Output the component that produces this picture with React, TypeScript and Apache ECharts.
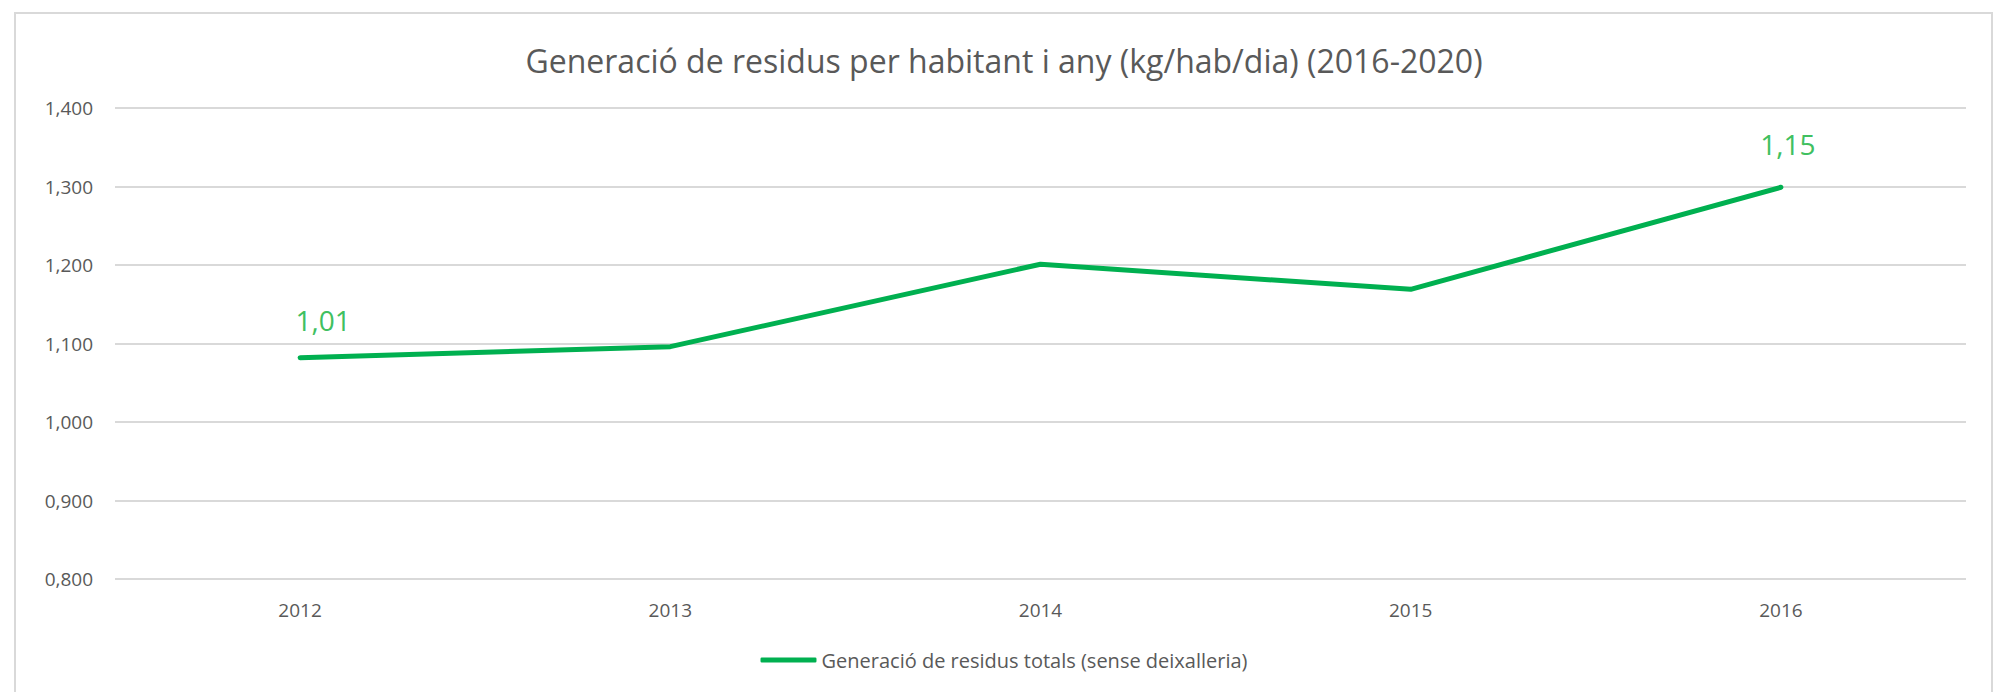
import React, { useEffect, useRef } from "react";
import * as echarts from "echarts";

const TITLE = "Generació de residus per habitant i any (kg/hab/dia) (2016-2020)";
const SERIES_NAME = "Generació de residus totals (sense deixalleria)";
const years = ["2012", "2013", "2014", "2015", "2016"];
const values = [1.082, 1.096, 1.201, 1.169, 1.299];
const pointLabels = ["1,01", "", "", "", "1,15"];

export default function App() {
  const ref = useRef<HTMLDivElement>(null);
  useEffect(() => {
    document.body.style.margin = "0";
    const chart = echarts.init(ref.current!, undefined, { renderer: "svg" });
    const data = values.map((v, i) => ({
      value: v,
      label: pointLabels[i]
        ? {
            show: true,
            position: "top",
            formatter: pointLabels[i],
            offset: i === 0 ? [23, -18] : [7, -24],
            color: "#40c060",
            fontSize: 28,
            fontFamily: "'Open Sans', sans-serif",
          }
        : { show: false },
    }));
    chart.setOption({
      animation: false,
      backgroundColor: "#ffffff",
      title: {
        text: TITLE,
        left: "center",
        top: 39,
        textStyle: {
          color: "#595959",
          fontSize: 32,
          fontWeight: "normal",
          fontFamily: "'Open Sans', sans-serif",
        },
      },
      graphic: [
        {
          type: "rect",
          shape: { x: 15, y: 13, width: 1977, height: 700 },
          style: { fill: "none", stroke: "#d9d9d9", lineWidth: 2 },
          silent: true,
        },
      ],
      grid: { left: 115, right: 42, top: 108, bottom: 113 },
      legend: {
        bottom: 17,
        left: "center",
        icon: "roundRect",
        itemWidth: 56,
        itemHeight: 5,
        textStyle: {
          color: "#595959",
          fontSize: 20,
          fontFamily: "'Open Sans', sans-serif",
        },
        data: [SERIES_NAME],
      },
      xAxis: {
        type: "category",
        data: years,
        boundaryGap: true,
        axisLine: { show: false },
        axisTick: { show: false },
        axisLabel: {
          color: "#595959",
          fontSize: 19,
          margin: 21,
          fontFamily: "'Open Sans', sans-serif",
        },
      },
      yAxis: {
        type: "value",
        min: 0.8,
        max: 1.4,
        interval: 0.1,
        axisLine: { show: false },
        axisTick: { show: false },
        splitLine: { lineStyle: { color: "#d9d9d9", width: 2 } },
        axisLabel: {
          color: "#595959",
          fontSize: 19,
          margin: 22,
          fontFamily: "'Open Sans', sans-serif",
          formatter: (v: number) => v.toFixed(3).replace(".", ","),
        },
      },
      series: [
        {
          name: SERIES_NAME,
          type: "line",
          data,
          symbol: "circle",
          symbolSize: 1,
          showSymbol: true,
          lineStyle: { color: "#00b050", width: 5, cap: "round", join: "round" },
          itemStyle: { color: "#00b050" },
        },
      ],
    });
    return () => chart.dispose();
  }, []);
  return <div ref={ref} style={{ width: 2008, height: 692 }} />;
}
